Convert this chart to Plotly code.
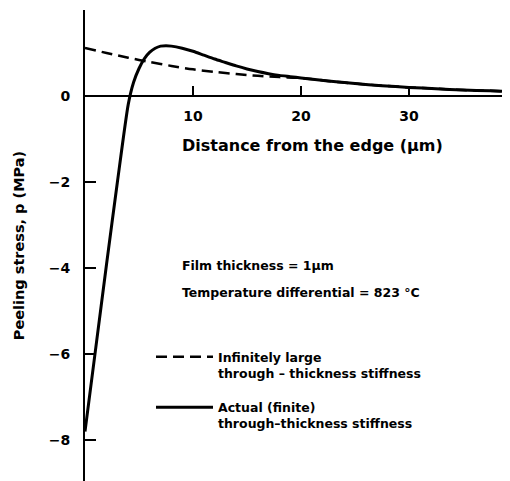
import plotly.graph_objects as go

# ---- data ----
x_dashed = [0, 2, 4, 6, 8, 10, 12, 14, 16, 18, 20, 22.5, 25, 27.5, 30, 32.5, 35, 37.5, 39.4]
y_dashed = [1.12, 1.0, 0.89, 0.79, 0.70, 0.62, 0.56, 0.51, 0.47, 0.44, 0.42, 0.35, 0.29, 0.24, 0.20, 0.17, 0.14, 0.12, 0.10]

x_solid = [0, 1, 2, 3, 4, 4.5, 5, 5.5, 6, 6.5, 7, 7.5, 8, 9, 10, 11, 12, 13, 14, 15, 16, 17, 18, 19, 20,
           22.5, 25, 27.5, 30, 32.5, 35, 37.5, 39.4]
y_solid = [-7.8, -5.85, -3.9, -2.0, -0.2, 0.32, 0.64, 0.87, 1.02, 1.11, 1.16, 1.17, 1.16, 1.11, 1.04, 0.95, 0.86, 0.78, 0.70,
           0.63, 0.57, 0.52, 0.48, 0.45, 0.42, 0.35, 0.29, 0.24, 0.20, 0.17, 0.14, 0.12, 0.10]

x_ticks = [10, 20, 30]
y_ticks = [0, -2, -4, -6, -8]
y_ticktext = ["0", "\u22122", "\u22124", "\u22126", "\u22128"]

name_dashed = "Infinitely large<br>through \u2013 thickness stiffness"
name_solid = "Actual (finite)<br>through\u2013thickness stiffness"
note_1 = "Film thickness = 1\u03bcm"
note_2 = "Temperature differential = 823 \u00b0C"
x_title = "Distance from the edge (\u03bcm)"
y_title = "Peeling stress, p (MPa)"

x_range = [0, 39.35]
y_range = [-8.95, 2.0]

FONT = "DejaVu Sans"

fig = go.Figure()
fig.add_trace(go.Scatter(
    x=x_dashed, y=y_dashed, mode="lines", name=name_dashed, legendgroup="a",
    line=dict(color="black", width=2.5, dash="11px,6px", shape="spline", smoothing=0.8),
))
fig.add_trace(go.Scatter(
    x=x_solid, y=y_solid, mode="lines", name=name_solid, legendgroup="b",
    line=dict(color="black", width=3, shape="spline", smoothing=0.6),
))

zero_pos = (0 - y_range[0]) / (y_range[1] - y_range[0])

# The page body adds an 8px offset; margins compensate so the plot area
# sits at window x 85..510, y 10..481.
fig.update_layout(
    template="none",
    width=510, height=481,
    margin=dict(l=77, r=8, t=2, b=8, autoexpand=False),
    paper_bgcolor="white", plot_bgcolor="white",
    font=dict(family=FONT, color="black", size=12, weight="bold"),
    showlegend=True,
    legend=dict(
        x=(151 - 85) / 425, y=1 - (342 - 10) / 471, xanchor="left", yanchor="top",
        font=dict(family=FONT, size=12.5, weight="bold"),
        bgcolor="rgba(0,0,0,0)", borderwidth=0,
        tracegroupgap=15, valign="top", itemwidth=57,
    ),
    xaxis=dict(
        range=x_range, anchor="free", position=zero_pos, automargin=False,
        showline=False, zeroline=False, showgrid=False,
        ticks="inside", ticklen=10, tickwidth=2, tickcolor="black",
        tickvals=x_ticks, ticktext=[str(v) for v in x_ticks],
        tickfont=dict(family=FONT, size=14, weight="bold"),
        ticklabelstandoff=10,
    ),
    yaxis=dict(
        range=y_range, automargin=False,
        showline=True, linewidth=2, linecolor="black",
        zeroline=True, zerolinewidth=2, zerolinecolor="black",
        showgrid=False,
        ticks="inside", ticklen=11, tickwidth=2, tickcolor="black",
        tickvals=y_ticks, ticktext=y_ticktext,
        tickfont=dict(family=FONT, size=14, weight="bold"),
        ticklabelstandoff=10,
        title=dict(text=y_title, standoff=21,
                   font=dict(family=FONT, size=14.5, weight="bold")),
    ),
    annotations=[
        dict(text=x_title, xref="paper", yref="paper", x=(312 - 85) / 425, y=1 - (146 - 10) / 471,
             xanchor="center", yanchor="middle", showarrow=False,
             font=dict(family=FONT, size=16, weight="bold")),
        dict(text=note_1, xref="paper", yref="paper", x=(180 - 85) / 425, y=1 - (265 - 10) / 471,
             xanchor="left", yanchor="middle", showarrow=False,
             font=dict(family=FONT, size=12.5, weight="bold")),
        dict(text=note_2, xref="paper", yref="paper", x=(180 - 85) / 425, y=1 - (292 - 10) / 471,
             xanchor="left", yanchor="middle", showarrow=False,
             font=dict(family=FONT, size=12.5, weight="bold")),
    ],
)

fig.write_html("out.html")
